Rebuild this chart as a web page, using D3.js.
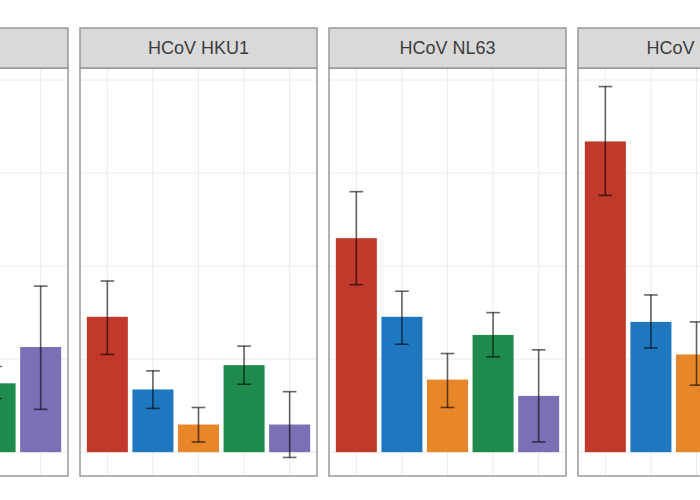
<!DOCTYPE html>
<html>
<head>
<meta charset="utf-8">
<script src="https://cdn.jsdelivr.net/npm/d3@7"></script>
<style>
  html, body { margin: 0; padding: 0; background: #ffffff; }
  svg { display: block; }
</style>
</head>
<body>
<svg id="chart" width="700" height="500"></svg>
<script>
// ---- data (null = not visible in the crop) ----
const panels = ["HCoV 229E", "HCoV HKU1", "HCoV NL63", "HCoV OC43"];
const groups = ["group1", "group2", "group3", "group4", "group5"];
const groupColors = ["#C0392B", "#1F77C0", "#E8862A", "#1E8A4C", "#7B6FB5"];
const meanValues = [
  [null, null, null, 0.74, 1.13],
  [1.455, 0.674, 0.297, 0.935, 0.297],
  [2.30, 1.455, 0.78, 1.26, 0.605],
  [3.34, 1.40, 1.05, null, null]
];
const lowerValues = [
  [null, null, null, 0.577, 0.46],
  [1.05, 0.47, 0.11, 0.73, -0.057],
  [1.80, 1.16, 0.48, 1.025, 0.11],
  [2.76, 1.12, 0.72, null, null]
];
const upperValues = [
  [null, null, null, 0.92, 1.785],
  [1.84, 0.874, 0.48, 1.14, 0.65],
  [2.80, 1.73, 1.06, 1.50, 1.10],
  [3.93, 1.69, 1.40, null, null]
];
const yTicks = [0, 1, 2, 3, 4];

// ---- layout ----
const svg = d3.select("#chart");
const stripTop = 28, stripH = 40, panelBottom = 476;
const panelTop = stripTop + stripH;

const px = d3.scaleBand().domain(panels).range([-169, 815]).paddingInner(12 / 249).paddingOuter(0);
const pw = px.bandwidth();

// y scale with ggplot-like 5% expansion
const allVals = [];
panels.forEach((p, i) => groups.forEach((g, j) => {
  [meanValues[i][j], lowerValues[i][j], upperValues[i][j]].forEach(v => { if (v !== null) allVals.push(v); });
}));
allVals.push(0);
const ext = d3.extent(allVals);
const pad = (ext[1] - ext[0]) * 0.05;
const y = d3.scaleLinear().domain([ext[0] - pad, ext[1] + pad]).range([panelBottom, panelTop]);

const gridColor = "#EBEBEB";
const borderColor = "#929292";

panels.forEach((p, i) => {
  const x0 = px(p);
  const g = svg.append("g").attr("transform", `translate(${x0},0)`);
  const xb = d3.scaleBand().domain(groups).range([0, pw]).paddingInner(0.1).paddingOuter(0.15);

  // panel background
  g.append("rect").attr("x", 0).attr("y", panelTop).attr("width", pw).attr("height", panelBottom - panelTop)
    .attr("fill", "#ffffff");

  // horizontal grid
  g.selectAll(".hg").data(yTicks).join("line")
    .attr("x1", 0).attr("x2", pw)
    .attr("y1", d => y(d)).attr("y2", d => y(d))
    .attr("stroke", gridColor).attr("stroke-width", 1);
  // vertical grid at category centers
  g.selectAll(".vg").data(groups).join("line")
    .attr("x1", d => xb(d) + xb.bandwidth() / 2).attr("x2", d => xb(d) + xb.bandwidth() / 2)
    .attr("y1", panelTop).attr("y2", panelBottom)
    .attr("stroke", gridColor).attr("stroke-width", 1);

  const rows = groups.map((gr, j) => ({
    g: gr, color: groupColors[j], m: meanValues[i][j], lo: lowerValues[i][j], hi: upperValues[i][j]
  })).filter(d => d.m !== null);

  // bars
  g.selectAll(".bar").data(rows).join("rect")
    .attr("x", d => xb(d.g)).attr("width", xb.bandwidth())
    .attr("y", d => y(Math.max(0, d.m))).attr("height", d => Math.abs(y(d.m) - y(0)))
    .attr("fill", d => d.color);

  // error bars
  const capW = xb.step() * 0.3;
  const eb = g.selectAll(".eb").data(rows).join("g")
    .attr("transform", d => `translate(${xb(d.g) + xb.bandwidth() / 2},0)`);
  eb.append("line").attr("x1", 0).attr("x2", 0)
    .attr("y1", d => y(d.lo)).attr("y2", d => y(d.hi));
  eb.append("line").attr("x1", -capW / 2).attr("x2", capW / 2)
    .attr("y1", d => y(d.hi)).attr("y2", d => y(d.hi));
  eb.append("line").attr("x1", -capW / 2).attr("x2", capW / 2)
    .attr("y1", d => y(d.lo)).attr("y2", d => y(d.lo));
  eb.selectAll("line").attr("stroke", "#000").attr("stroke-opacity", 0.6).attr("stroke-width", 1.6);

  // panel border
  g.append("rect").attr("x", 0).attr("y", panelTop).attr("width", pw).attr("height", panelBottom - panelTop)
    .attr("fill", "none").attr("stroke", borderColor).attr("stroke-width", 1.4);

  // strip
  g.append("rect").attr("x", 0).attr("y", stripTop).attr("width", pw).attr("height", stripH)
    .attr("fill", "#D9D9D9").attr("stroke", borderColor).attr("stroke-width", 1.4);
  g.append("text").attr("x", pw / 2).attr("y", stripTop + stripH / 2 + 1)
    .attr("text-anchor", "middle").attr("dominant-baseline", "middle")
    .attr("font-family", "Liberation Sans, Arial, sans-serif").attr("font-size", 18)
    .attr("fill", "#3c3c3c").text(p);
});
</script>
</body>
</html>
